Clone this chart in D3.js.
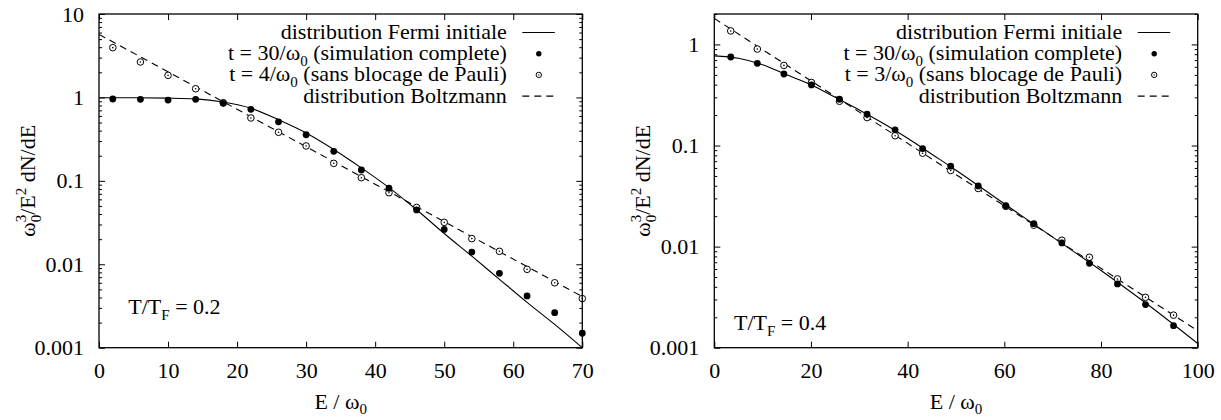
<!DOCTYPE html>
<html><head><meta charset="utf-8">
<script src="https://cdn.jsdelivr.net/npm/d3@7"></script>
<style>
html,body{margin:0;padding:0;background:#fff;}
svg{display:block;}
svg text, svg tspan{font-family:"Liberation Serif","Tinos","Times New Roman",serif;fill:#000;}
</style></head><body>
<svg id="fig" width="1221" height="420"></svg>
<script>
// ---- T/TF = 0.2 (left) ----
const energyLeft = [2,6,10,14,18,22,26,30,34,38,42,46,50,54,58,62,66,70];
const completeLeft = [0.958,0.95,0.93,0.95,0.85,0.72,0.51,0.357,0.226,0.135,0.0815,0.0448,0.0262,0.0140,0.0078,0.00417,0.00263,0.00149];
const noPauliLeft = [3.95,2.66,1.84,1.27,0.865,0.567,0.382,0.262,0.162,0.109,0.0721,0.048,0.0318,0.0203,0.0143,0.0087,0.0060,0.00388];
const fermiEnergyLeft = [0,5,10,14,18,22,26,30,34,38,42,46,50,54,58,62,66,70];
const fermiLeft = [0.99,0.99,0.98,0.96,0.88,0.74,0.54,0.375,0.238,0.143,0.083,0.045,0.0234,0.0125,0.0066,0.0035,0.0019,0.001];
const boltzEnergyLeft = [0,70];
const boltzLeft = [5.7,0.0041];
const xTicksLeft = [0,10,20,30,40,50,60,70];
const yTicksLeft = [0.001,0.01,0.1,1,10];
const yTickLabelsLeft = ["0.001","0.01","0.1","1","10"];
const legendLeft = ["distribution Fermi initiale","t = 30/ω0 (simulation complete)","t = 4/ω0 (sans blocage de Pauli)","distribution Boltzmann"];

// ---- T/TF = 0.4 (right) ----
const energyRight = [3.4,8.9,14.4,20.1,25.9,31.6,37.4,43.1,48.9,54.6,60.3,66.1,71.9,77.6,83.4,89.2,95.0];
const completeRight = [0.751,0.650,0.510,0.398,0.287,0.204,0.143,0.0933,0.0625,0.0398,0.0254,0.01686,0.01087,0.00684,0.00427,0.00267,0.00165];
const noPauliRight = [1.36,0.90,0.62,0.42,0.274,0.189,0.125,0.084,0.0566,0.0376,0.025,0.0163,0.01156,0.00785,0.00479,0.00315,0.00210];
const fermiEnergyRight = [0,5,10,15,20,25,30,35,40,45,50,60,70,80,90,100];
const fermiRight = [0.77,0.73,0.63,0.50,0.40,0.30,0.225,0.165,0.118,0.082,0.057,0.0265,0.0124,0.0058,0.0026,0.0011];
const boltzEnergyRight = [0,100];
const boltzRight = [1.81,0.00147];
const xTicksRight = [0,20,40,60,80,100];
const yTicksRight = [0.001,0.01,0.1,1];
const yTickLabelsRight = ["0.001","0.01","0.1","1"];
const legendRight = ["distribution Fermi initiale","t = 30/ω0 (simulation complete)","t = 3/ω0 (sans blocage de Pauli)","distribution Boltzmann"];

const svg = d3.select("#fig");
const FONT = 22, SMALL = 15;
const SERIF = '"Liberation Serif", "Tinos", "Times New Roman", serif';

// Append tspans; parts = [[text, mode, dx]] with mode "sub" | "sup" | ""
function rich(textSel, parts) {
  textSel.style("font-family", SERIF);
  let cur = 0;
  parts.forEach(([t, mode, dx]) => {
    const target = mode === "sub" ? 5.5 : mode === "sup" ? -9 : 0;
    const ts = textSel.append("tspan").text(t)
      .attr("dy", target - cur)
      .style("font-size", (mode ? SMALL : FONT) + "px");
    if (dx) ts.attr("dx", dx);
    cur = target;
  });
  return textSel;
}

// split "…ω0…" legend strings into rich parts with subscript 0
function omegaParts(s) {
  const i = s.indexOf("ω0");
  if (i < 0) return [[s, ""]];
  return [[s.slice(0, i + 1), ""], ["0", "sub"], [s.slice(i + 2), ""]];
}

function drawPanel(p) {
  const x = d3.scaleLinear().domain(p.xDomain).range([p.x0, p.x1]);
  const y = d3.scaleLog().domain(p.yDomain).range([p.y1, p.y0]);
  const g = svg.append("g");

  const clipId = "clip" + p.id;
  g.append("clipPath").attr("id", clipId).append("rect")
    .attr("x", p.x0).attr("y", p.y0).attr("width", p.x1 - p.x0).attr("height", p.y1 - p.y0);

  const styleAxis = a => {
    a.select(".domain").remove();
    a.attr("font-family", null).attr("font-size", null);
    a.selectAll("line").attr("stroke", "#000").attr("stroke-width", 1);
    a.selectAll("text").attr("fill", "#000")
      .style("font-family", SERIF).style("font-size", FONT + "px");
  };

  const majors = p.yTicks;
  const minors = y.ticks().filter(v => !majors.some(m => Math.abs(m - v) / m < 1e-6));

  g.append("g").attr("transform", `translate(0,${p.y1})`)
    .call(d3.axisBottom(x).tickValues(p.xTicks).tickSize(-6).tickPadding(15).tickFormat(d3.format("d")))
    .call(styleAxis);
  g.append("g").attr("transform", `translate(0,${p.y0})`)
    .call(d3.axisTop(x).tickValues(p.xTicks).tickSize(-6).tickFormat(""))
    .call(styleAxis);
  g.append("g").attr("transform", `translate(${p.x0},0)`)
    .call(d3.axisLeft(y).tickValues(majors).tickSize(-6).tickPadding(15).tickFormat((d, i) => p.yLabels[i]))
    .call(styleAxis);
  g.append("g").attr("transform", `translate(${p.x0},0)`)
    .call(d3.axisLeft(y).tickValues(minors).tickSize(-3).tickFormat(""))
    .call(styleAxis);
  g.append("g").attr("transform", `translate(${p.x1},0)`)
    .call(d3.axisRight(y).tickValues(majors).tickSize(-6).tickFormat(""))
    .call(styleAxis);
  g.append("g").attr("transform", `translate(${p.x1},0)`)
    .call(d3.axisRight(y).tickValues(minors).tickSize(-3).tickFormat(""))
    .call(styleAxis);

  // curves
  const plot = g.append("g").attr("clip-path", `url(#${clipId})`);
  const fermiData = p.fermiE.map((e, i) => [e, p.fermi[i]]);
  const boltzData = p.boltzE.map((e, i) => [e, p.boltz[i]]);
  plot.append("path").datum(fermiData)
    .attr("d", d3.line().x(d => x(d[0])).y(d => y(d[1])).curve(d3.curveMonotoneX))
    .attr("fill", "none").attr("stroke", "#000").attr("stroke-width", 1.1);
  plot.append("path").datum(boltzData)
    .attr("d", d3.line().x(d => x(d[0])).y(d => y(d[1])))
    .attr("fill", "none").attr("stroke", "#000").attr("stroke-width", 1.1)
    .attr("stroke-dasharray", "7,5");

  // points
  const open = p.energy.map((e, i) => [e, p.noPauli[i]]);
  const full = p.energy.map((e, i) => [e, p.complete[i]]);
  g.append("g").selectAll("circle").data(open).join("circle")
    .attr("cx", d => x(d[0])).attr("cy", d => y(d[1])).attr("r", 3.3)
    .attr("fill", "#fff").attr("stroke", "#000").attr("stroke-width", 1);
  g.append("g").selectAll("circle").data(open).join("circle")
    .attr("cx", d => x(d[0])).attr("cy", d => y(d[1])).attr("r", 0.8).attr("fill", "#000");
  g.append("g").selectAll("circle").data(full).join("circle")
    .attr("cx", d => x(d[0])).attr("cy", d => y(d[1])).attr("r", 3.4).attr("fill", "#000");

  // border
  g.append("rect").attr("x", p.x0).attr("y", p.y0)
    .attr("width", p.x1 - p.x0).attr("height", p.y1 - p.y0)
    .attr("fill", "none").attr("stroke", "#000").attr("stroke-width", 1.3);

  // legend
  const lg = g.append("g");
  p.legend.forEach((label, i) => {
    const base = 39 + i * 21.2, cy = base - 6.5;
    rich(lg.append("text").attr("x", p.x1 - 75.5).attr("y", base)
      .attr("text-anchor", "end"), omegaParts(label));
    const lx0 = p.x1 - 60, lx1 = p.x1 - 27.5, cx = p.x1 - 43.5;
    if (i === 0) {
      lg.append("line").attr("x1", lx0).attr("x2", lx1).attr("y1", cy).attr("y2", cy)
        .attr("stroke", "#000").attr("stroke-width", 1.1);
    } else if (i === 1) {
      lg.append("circle").attr("cx", cx).attr("cy", cy).attr("r", 2.7).attr("fill", "#000");
    } else if (i === 2) {
      lg.append("circle").attr("cx", cx).attr("cy", cy).attr("r", 2.7)
        .attr("fill", "#fff").attr("stroke", "#000").attr("stroke-width", 1);
      lg.append("circle").attr("cx", cx).attr("cy", cy).attr("r", 0.7).attr("fill", "#000");
    } else {
      lg.append("line").attr("x1", lx0).attr("x2", lx1).attr("y1", cy).attr("y2", cy)
        .attr("stroke", "#000").attr("stroke-width", 1.1).attr("stroke-dasharray", "7,5");
    }
  });

  // temperature label
  rich(g.append("text").attr("x", p.tx).attr("y", p.ty),
    [["T/T", ""], ["F", "sub"], [" = " + p.temp, ""]]);

  // axis titles
  rich(g.append("text").attr("x", (p.x0 + p.x1) / 2).attr("y", 408.5)
    .attr("text-anchor", "middle"),
    [["E / ω", ""], ["0", "sub"]]);
  const ymid = (p.y0 + p.y1) / 2, ylx = p.x0 - 64;
  rich(g.append("text").attr("transform", `translate(${ylx},${ymid}) rotate(-90)`)
    .attr("text-anchor", "middle"),
    [["ω", ""], ["3", "sup"], ["0", "sub", -7.5], ["/E", ""], ["2", "sup"], [" dN/dE", ""]]);
}

drawPanel({
  id: "L", x0: 99, x1: 582.3, y0: 14, y1: 347.7,
  xDomain: [0, 70], yDomain: [0.001, 10],
  xTicks: xTicksLeft, yTicks: yTicksLeft, yLabels: yTickLabelsLeft,
  energy: energyLeft, complete: completeLeft, noPauli: noPauliLeft,
  fermiE: fermiEnergyLeft, fermi: fermiLeft, boltzE: boltzEnergyLeft, boltz: boltzLeft,
  legend: legendLeft, temp: "0.2", tx: 128.3, ty: 314
});
drawPanel({
  id: "R", x0: 714.3, x1: 1197.7, y0: 14, y1: 347.7,
  xDomain: [0, 100], yDomain: [0.001, 2],
  xTicks: xTicksRight, yTicks: yTicksRight, yLabels: yTickLabelsRight,
  energy: energyRight, complete: completeRight, noPauli: noPauliRight,
  fermiE: fermiEnergyRight, fermi: fermiRight, boltzE: boltzEnergyRight, boltz: boltzRight,
  legend: legendRight, temp: "0.4", tx: 734, ty: 330
});
</script>
</body></html>
